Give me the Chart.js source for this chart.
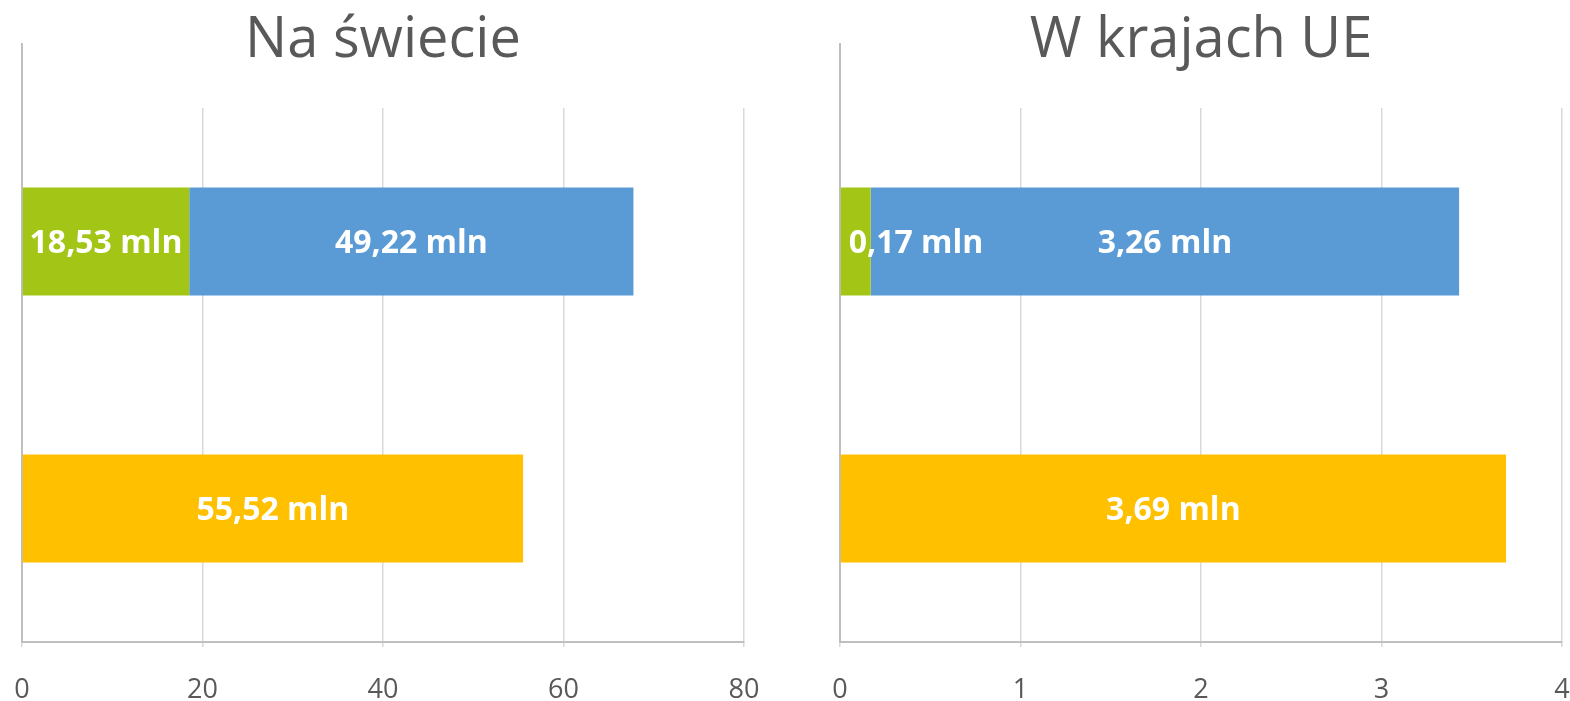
<!DOCTYPE html>
<html><head><meta charset="utf-8">
<script src="https://cdn.jsdelivr.net/npm/chart.js@4.4.1/dist/chart.umd.min.js"></script>
<style>
html,body{margin:0;padding:0;background:#fff;overflow:hidden;width:1570px;height:701px;position:relative;}
#w1{position:absolute;left:0;top:0;width:780px;height:736px;}
#w2{position:absolute;left:800px;top:0;width:800px;height:736px;}
canvas{display:block;}
</style></head><body>
<div id="w1"><canvas id="c1" width="780" height="736"></canvas></div>
<div id="w2"><canvas id="c2" width="800" height="736"></canvas></div>
<script>
// ---- data ----
const categories = ['Górny słupek', 'Dolny słupek'];
const titles = ['Na świecie', 'W krajach UE'];
const worldGreen = [18.53, null];
const worldBlue = [49.22, null];
const worldYellow = [null, 55.52];
const euGreen = [0.17, null];
const euBlue = [3.26, null];
const euYellow = [null, 3.69];
const worldTicks = [0, 20, 40, 60, 80];
const euTicks = [0, 1, 2, 3, 4];

const GREEN = '#A2C516', BLUE = '#5B9BD5', YELLOW = '#FFC000';
const TXT = '#595959';

const barLabels = {
  id: 'barLabels',
  afterDatasetsDraw(chart) {
    const ctx = chart.ctx;
    ctx.save();
    const size = 32;
    ctx.font = 'bold ' + size + 'px "Open Sans"';
    ctx.fillStyle = '#ffffff';
    ctx.textBaseline = 'alphabetic';
    chart.data.datasets.forEach((ds, i) => {
      const meta = chart.getDatasetMeta(i);
      meta.data.forEach((bar, j) => {
        const v = ds.data[j];
        if (v == null) return;
        const txt = v.toFixed(2).replace('.', ',') + ' mln';
        const w = ctx.measureText(txt).width;
        const l = Math.min(bar.x, bar.base), r = Math.max(bar.x, bar.base);
        const y = bar.y + size * 0.714 / 2;
        if (w + 8 > r - l) { ctx.textAlign = 'left'; ctx.fillText(txt, l + 8, y); }
        else { ctx.textAlign = 'center'; ctx.fillText(txt, (l + r) / 2, y); }
      });
    });
    ctx.restore();
  }
};

const axisExtend = {
  id: 'axisExtend',
  beforeDatasetsDraw(chart, args, opts) {
    const {ctx, chartArea} = chart;
    const x = chart.scales.x.getPixelForValue(0);
    ctx.save();
    ctx.strokeStyle = '#bfbfbf';
    ctx.lineWidth = 2;
    ctx.beginPath();
    ctx.moveTo(x, chartArea.top - opts.above);
    ctx.lineTo(x, chartArea.bottom);
    ctx.stroke();
    ctx.restore();
  }
};

function makeChart(id, title, g, b, y, ticks, padL, padR) {
  return new Chart(document.getElementById(id), {
    type: 'bar',
    data: {
      labels: categories,
      datasets: [
        {label: 'zielony', data: g, backgroundColor: GREEN},
        {label: 'niebieski', data: b, backgroundColor: BLUE},
        {label: 'żółty', data: y, backgroundColor: YELLOW}
      ]
    },
    options: {
      indexAxis: 'y',
      responsive: false,
      animation: false,
      devicePixelRatio: 1,
      datasets: {bar: {categoryPercentage: 1, barPercentage: 0.405, borderWidth: 0}},
      layout: {padding: {left: padL, right: padR, top: 0, bottom: 2}},
      plugins: {
        legend: {display: false},
        tooltip: {enabled: false},
        title: {display: true, text: title, color: TXT,
          font: {family: 'Open Sans', size: 56, weight: 'normal', lineHeight: 1.2},
          padding: {top: 7, bottom: 33.8}},
        axisExtend: {above: 65}
      },
      scales: {
        x: {
          type: 'linear', stacked: true,
          min: ticks[0], max: ticks[ticks.length - 1],
          afterFit(s) { s.paddingLeft = 0; s.paddingRight = 0; },
          ticks: {stepSize: ticks[1] - ticks[0], color: TXT,
            font: {family: 'Open Sans', size: 27, lineHeight: 1}, padding: 30},
          grid: {color: '#d9d9d9', lineWidth: 1.5, tickLength: 5},
          border: {display: true, color: '#bfbfbf', width: 2}
        },
        y: {
          type: 'category', stacked: true,
          ticks: {display: false},
          grid: {display: false, drawTicks: false},
          border: {display: false}
        }
      }
    },
    plugins: [barLabels, axisExtend]
  });
}

makeChart('c1', titles[0], worldGreen, worldBlue, worldYellow, worldTicks, 22, 36);
makeChart('c2', titles[1], euGreen, euBlue, euYellow, euTicks, 40, 38);
</script>
</body></html>
